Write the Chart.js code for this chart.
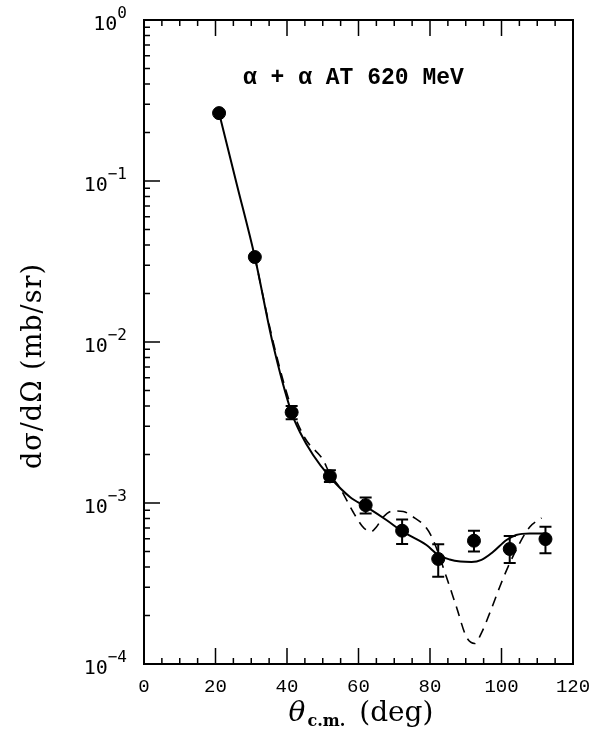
<!DOCTYPE html>
<html>
<head>
<meta charset="utf-8">
<script src="https://cdn.jsdelivr.net/npm/chart.js@4/dist/chart.umd.min.js"></script>
<style>
  html, body { margin: 0; padding: 0; background: #ffffff; }
  #wrap { position: relative; width: 605px; height: 736px; }
</style>
</head>
<body>
<div id="wrap"><canvas id="c" width="605" height="736"></canvas></div>
<script>
// ---- data ----
const angles  = [21, 31, 41.3, 52, 62, 72.2, 82.3, 92.3, 102.3, 112.3];
const sigma   = [0.264, 0.0337, 3.66e-3, 1.465e-3, 9.7e-4, 6.73e-4, 4.49e-4, 5.83e-4, 5.18e-4, 5.97e-4];
const errLow  = [null, null, 3.31e-3, 1.35e-3, 8.6e-4, 5.56e-4, 3.48e-4, 4.99e-4, 4.24e-4, 4.87e-4];
const errHigh = [null, null, 4.0e-3, 1.60e-3, 1.08e-3, 7.9e-4, 5.54e-4, 6.73e-4, 6.24e-4, 7.13e-4];

// solid theory curve
const solidX = [21, 26, 31, 36, 41.3, 43.6, 47.3, 52, 57.6, 62.2, 67.8, 72.5, 79, 82.3, 85.5, 88.5, 91.6, 94.4, 97.6, 101.4, 104.1, 107.9, 112.1];
const solidY = [0.2645, 0.0945, 0.03373, 0.009858, 0.003622, 0.002761, 0.001987, 0.001450, 0.001090, 0.000945, 0.000784, 0.000661, 0.000548, 0.000475, 0.000446, 0.000433, 0.000430, 0.000443, 0.000496, 0.000589, 0.000633, 0.000647, 0.000647];

// dashed theory curve
const dashX = [31, 36, 41, 45, 50.1, 52, 54.8, 58.5, 61, 62.2, 63.6, 65, 66.9, 69.5, 72.5, 75.2, 79, 80.9, 84.6, 87.4, 90.2, 92.5, 94.4, 96.7, 99.5, 101.8, 105.1, 107.9, 111.2];
const dashY = [0.0337, 0.01029, 0.00406, 0.002534, 0.00185, 0.001514, 0.00124, 0.000879, 0.00072, 0.00068, 0.000665, 0.000709, 0.000818, 0.000892, 0.000886, 0.000822, 0.000699, 0.000589, 0.000347, 0.000226, 0.000147, 0.000134, 0.000156, 0.000207, 0.000301, 0.0004, 0.000564, 0.00071, 0.000807];

const xTicks = [0, 20, 40, 60, 80, 100, 120];
const yTickExps = [0, -1, -2, -3, -4];
const titleText = "\u03B1 + \u03B1 AT 620 MeV";
const yAxisTitle = "d\u03C3/d\u03A9 (mb/sr)";
const xAxisTitleMain = "\u03B8";
const xAxisTitleSub = "c.m.";
const xAxisTitleUnit = "(deg)";

// ---- chart ----
const toPts = (xs, ys) => xs.map((x, i) => ({ x: x, y: ys[i] }));

const decorPlugin = {
  id: 'decor',
  afterDatasetsDraw(chart) {
    const ctx = chart.ctx;
    const xs = chart.scales.x, ys = chart.scales.y;
    const a = chart.chartArea;
    ctx.save();
    ctx.strokeStyle = '#000';
    ctx.fillStyle = '#000';

    // error bars
    ctx.lineWidth = 2;
    angles.forEach((ang, i) => {
      if (errLow[i] == null) return;
      const px = xs.getPixelForValue(ang);
      const y1 = ys.getPixelForValue(errLow[i]);
      const y2 = ys.getPixelForValue(errHigh[i]);
      ctx.beginPath();
      ctx.moveTo(px, y1); ctx.lineTo(px, y2);
      ctx.moveTo(px - 6, y1); ctx.lineTo(px + 6, y1);
      ctx.moveTo(px - 6, y2); ctx.lineTo(px + 6, y2);
      ctx.stroke();
    });

    // frame
    ctx.lineWidth = 2;
    ctx.strokeRect(a.left, a.top, a.right - a.left, a.bottom - a.top);

    // x ticks (bottom & top)
    ctx.lineWidth = 1.5;
    ctx.beginPath();
    for (let v = 0; v <= 120; v += 5) {
      const px = xs.getPixelForValue(v);
      const len = (v % 20 === 0) ? 16 : 6;
      if (v === 0 || v === 120) continue;
      ctx.moveTo(px, a.bottom); ctx.lineTo(px, a.bottom - len);
      ctx.moveTo(px, a.top); ctx.lineTo(px, a.top + len);
    }
    // y ticks (left)
    for (let e = -4; e <= 0; e++) {
      const major = Math.pow(10, e);
      if (e > -4 && e < 0) {
        const py = ys.getPixelForValue(major);
        ctx.moveTo(a.left, py); ctx.lineTo(a.left + 16, py);
      }
      if (e < 0) {
        for (let m = 2; m <= 9; m++) {
          const py = ys.getPixelForValue(m * major);
          ctx.moveTo(a.left, py); ctx.lineTo(a.left + 6, py);
        }
      }
    }
    ctx.stroke();

    // y tick labels 10^n
    yTickExps.forEach(e => {
      const py = ys.getPixelForValue(Math.pow(10, e));
      const sup = e === 0 ? '0' : '\u2212' + Math.abs(e);
      const baseFont = '20px "DejaVu Sans Mono"';
      const supFont = '16px "DejaVu Sans Mono"';
      ctx.textBaseline = 'alphabetic';
      ctx.textAlign = 'left';
      ctx.font = baseFont;
      const baseW = ctx.measureText('10').width;
      ctx.font = supFont;
      const supW = ctx.measureText(sup).width;
      const right = a.left - 17;
      const x0 = right - baseW - supW;
      ctx.font = baseFont;
      ctx.fillText('10', x0, py + 10);
      ctx.font = supFont;
      ctx.fillText(sup, x0 + baseW, py - 2);
    });

    // inner annotation
    ctx.font = 'bold 23px "Liberation Mono"';
    ctx.textAlign = 'left';
    ctx.textBaseline = 'middle';
    ctx.fillText(titleText, 243, 78);

    // y axis title
    ctx.save();
    ctx.translate(34, 366);
    ctx.rotate(-Math.PI / 2);
    ctx.font = '27px "DejaVu Serif"';
    ctx.letterSpacing = '1px';
    ctx.textAlign = 'center';
    ctx.textBaseline = 'middle';
    ctx.fillText(yAxisTitle, 0, 0);
    ctx.letterSpacing = '0px';
    ctx.restore();

    // x axis title with subscript
    ctx.textBaseline = 'alphabetic';
    ctx.textAlign = 'left';
    const mainFont = 'italic 28px "DejaVu Serif"';
    const subFont = 'bold 16px "DejaVu Serif"';
    const unitFont = '28px "DejaVu Serif"';
    ctx.font = mainFont; const w1 = ctx.measureText(xAxisTitleMain).width;
    ctx.font = subFont;  const w2 = ctx.measureText(xAxisTitleSub).width;
    ctx.font = unitFont; const w3 = ctx.measureText(xAxisTitleUnit).width;
    const gap = 14;
    const total = w1 + 2 + w2 + gap + w3;
    let sx = 361 - total / 2;
    const base = 721;
    ctx.font = mainFont; ctx.fillText(xAxisTitleMain, sx, base); sx += w1 + 2;
    ctx.font = subFont;  ctx.fillText(xAxisTitleSub, sx, base + 5); sx += w2 + gap;
    ctx.font = unitFont; ctx.fillText(xAxisTitleUnit, sx, base);

    ctx.restore();
  }
};

new Chart(document.getElementById('c'), {
  type: 'scatter',
  data: {
    datasets: [
      {
        label: 'data',
        data: toPts(angles, sigma),
        pointRadius: 6.5,
        pointHoverRadius: 6.5,
        pointBackgroundColor: '#000',
        pointBorderColor: '#000',
        showLine: false,
        order: 0
      },
      {
        label: 'solid',
        data: toPts(solidX, solidY),
        showLine: true,
        borderColor: '#000',
        borderWidth: 2,
        pointRadius: 0,
        cubicInterpolationMode: 'monotone',
        order: 1
      },
      {
        label: 'dashed',
        data: toPts(dashX, dashY),
        showLine: true,
        borderColor: '#000',
        borderWidth: 1.6,
        borderDash: [10, 7],
        pointRadius: 0,
        cubicInterpolationMode: 'monotone',
        order: 2
      }
    ]
  },
  options: {
    responsive: false,
    animation: false,
    events: [],
    layout: { padding: { top: 20, right: 32, left: 0, bottom: 0 } },
    plugins: { legend: { display: false }, tooltip: { enabled: false }, title: { display: false } },
    scales: {
      x: {
        type: 'linear',
        min: 0, max: 120,
        grid: { display: false, drawTicks: false },
        border: { display: false },
        afterBuildTicks: s => { s.ticks = xTicks.map(v => ({ value: v })); },
        afterFit: s => { s.height = 72; },
        ticks: {
          color: '#000',
          padding: 12,
          maxRotation: 0,
          autoSkip: false,
          font: { family: '"Liberation Mono"', size: 19 },
          callback: v => String(v)
        }
      },
      y: {
        type: 'logarithmic',
        min: 1e-4, max: 1,
        grid: { display: false, drawTicks: false },
        border: { display: false },
        afterBuildTicks: s => { s.ticks = yTickExps.map(e => ({ value: Math.pow(10, e) })); },
        afterFit: s => { s.width = 144; },
        ticks: { display: false }
      }
    }
  },
  plugins: [decorPlugin]
});
</script>
</body>
</html>
